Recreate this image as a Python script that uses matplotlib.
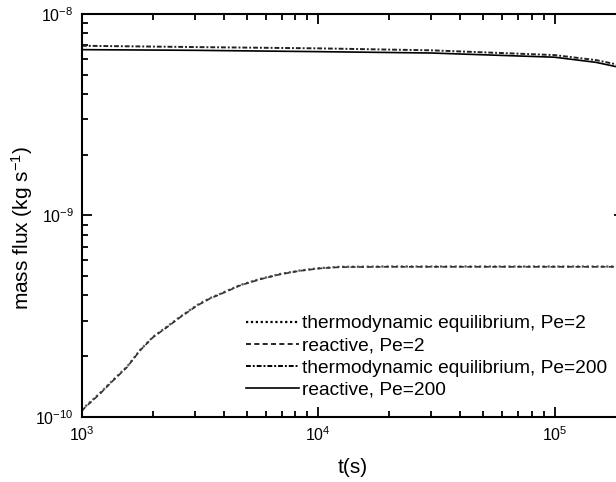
import matplotlib
matplotlib.use("Agg")
import matplotlib.pyplot as plt

plt.rcParams['font.family'] = ['Liberation Sans', 'DejaVu Sans']
plt.rcParams['mathtext.fontset'] = 'custom'
plt.rcParams['mathtext.rm'] = 'Liberation Sans'
plt.rcParams['mathtext.it'] = 'Liberation Sans:italic'

# values
t_pe2 = [1000, 1029, 1192, 1353, 1550, 1760, 1998, 2289, 2598, 3067, 3482, 3837, 4662,
         5666, 6884, 8367, 10170, 12350, 20000, 50000, 100000, 200000]
eq_pe2 = [1.08e-10, 1.12e-10, 1.31e-10, 1.52e-10, 1.77e-10, 2.14e-10, 2.49e-10, 2.80e-10,
          3.13e-10, 3.58e-10, 3.88e-10, 4.07e-10, 4.50e-10, 4.83e-10, 5.11e-10, 5.32e-10,
          5.47e-10, 5.55e-10, 5.57e-10, 5.57e-10, 5.57e-10, 5.57e-10]
re_pe2 = [1.07e-10, 1.11e-10, 1.30e-10, 1.51e-10, 1.76e-10, 2.13e-10, 2.48e-10, 2.78e-10,
          3.11e-10, 3.56e-10, 3.86e-10, 4.05e-10, 4.48e-10, 4.81e-10, 5.09e-10, 5.30e-10,
          5.45e-10, 5.53e-10, 5.55e-10, 5.55e-10, 5.55e-10, 5.55e-10]

t_pe200 = [1000, 3000, 10000, 30000, 100000, 150000, 200000]
eq_pe200 = [6.95e-9, 6.85e-9, 6.75e-9, 6.6e-9, 6.25e-9, 5.9e-9, 5.5e-9]
re_pe200 = [6.65e-9, 6.6e-9, 6.5e-9, 6.4e-9, 6.1e-9, 5.75e-9, 5.35e-9]

labels = ["thermodynamic equilibrium, Pe=2", "reactive, Pe=2",
          "thermodynamic equilibrium, Pe=200", "reactive, Pe=200"]

fig = plt.figure(figsize=(6.16, 4.82), dpi=100)
# right spine sits just past the edge of the (cropped) original
ax = fig.add_axes([0.1331, 0.1355, 0.880, 0.8355])

ax.plot(t_pe2, eq_pe2, color='#555555', ls=(0, (1, 1.2)), lw=1.6, label=labels[0])
ax.plot(t_pe2, re_pe2, color='#333333', ls=(0, (3, 2)), lw=1.2, label=labels[1])
ax.plot(t_pe200, eq_pe200, color='#222222', ls=(0, (2.5, 1, 1, 1)), lw=1.4, label=labels[2])
ax.plot(t_pe200, re_pe200, color='black', ls='-', lw=1.2, label=labels[3])

ax.set_xscale('log')
ax.set_yscale('log')
ax.set_xlim(1e3, 1.97e5)
ax.set_ylim(1e-10, 1e-8)

ax.set_xlabel("t(s)", fontsize=15, labelpad=10)
ax.set_ylabel("mass flux (kg s$^{-1}$)", fontsize=15)
ax.yaxis.set_label_coords(-0.087, 0.469)

for s in ax.spines.values():
    s.set_linewidth(1.5)
ax.tick_params(which='both', direction='in', top=True, right=True, labelsize=11.5, width=1.3)
ax.tick_params(which='major', length=7, pad=6)
ax.tick_params(which='minor', length=4.5)

leg = ax.legend(loc='upper left', bbox_to_anchor=(0.288, 0.272), frameon=False, fontsize=13.8,
                handlelength=2.76, handletextpad=0.15, labelspacing=0.25, borderaxespad=0)
for h in leg.get_lines():
    h.set_color('black')

fig.savefig("out.png", dpi=100)
